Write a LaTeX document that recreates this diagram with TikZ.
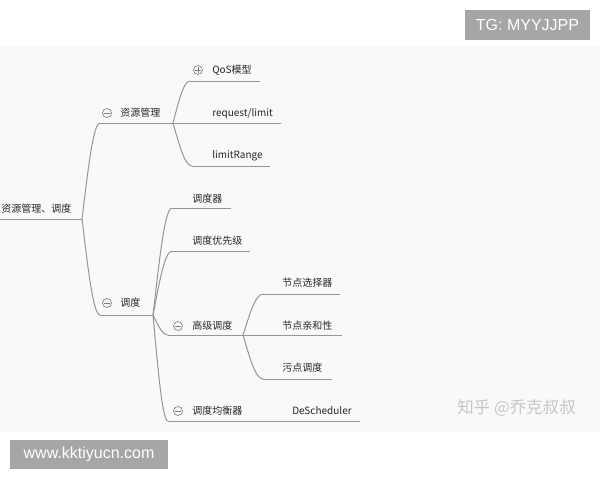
\documentclass[tikz,border=0pt]{standalone}
\usepackage{fontspec}
\usetikzlibrary{calc}
\newfontfamily\cjk{Noto Sans CJK SC}
\newfontfamily\arialf{Liberation Sans}
\definecolor{ln}{HTML}{8F9999}
\definecolor{txt}{HTML}{262626}
\definecolor{icon}{HTML}{808080}
\definecolor{bg}{HTML}{F9F9F9}
\definecolor{tag}{HTML}{A6A6A6}
\definecolor{wm}{HTML}{C6C6C6}
\begin{document}
\begin{tikzpicture}[x=0.75pt,y=-0.75pt,
  lbl/.style={anchor=west,inner sep=0pt,font=\cjk\fontsize{7.5}{9}\selectfont,text=txt},
  br/.style={draw=ln,line width=0.75pt},
  curvy/.style={to path={let \p1=(\tikztostart), \p2=(\tikztotarget) in
     .. controls ({\x1+0.3*(\x2-\x1)},{\y1+0.45*(\y2-\y1)}) and ({\x1+0.6*(\x2-\x1)},{\y2}) .. (\tikztotarget)}},
  foldm/.style={circle,draw=icon,fill=bg,minimum size=6.75pt,inner sep=0pt,line width=0.5pt,
     path picture={\draw[icon,line width=0.5pt] ([xshift=-2pt]path picture bounding box.center) -- ([xshift=2pt]path picture bounding box.center);}},
  foldp/.style={foldm,
     path picture={\draw[icon,line width=0.5pt] ([xshift=-2pt]path picture bounding box.center) -- ([xshift=2pt]path picture bounding box.center)
        ([yshift=-2pt]path picture bounding box.center) -- ([yshift=2pt]path picture bounding box.center);}},
  tagbox/.style={fill=tag,text=white,inner sep=0pt,font=\arialf\fontsize{12}{14}\selectfont}
]
% background
\fill[white] (0,0) rectangle (600,480);
\fill[bg] (0,47) rectangle (600,432);
\useasboundingbox (0,0) rectangle (600,480);

% coordinates of topic lines
\coordinate (root-s) at (0,219);   \coordinate (root-e) at (82,219);
\coordinate (res-s) at (100,123);  \coordinate (res-e) at (173,123);
\coordinate (qos-s) at (190,81);   \coordinate (qos-e) at (260,81);
\coordinate (req-e) at (281,123);
\coordinate (lr-s) at (192,166);   \coordinate (lr-e) at (270,166);
\coordinate (sch-s) at (100,315);  \coordinate (sch-e) at (153,315);
\coordinate (s1-s) at (172,208);   \coordinate (s1-e) at (231,208);
\coordinate (s2-s) at (172,251);   \coordinate (s2-e) at (250,251);
\coordinate (s3-s) at (168,335);   \coordinate (s3-e) at (243,335);
\coordinate (a-s) at (263,294);    \coordinate (a-e) at (340,294);
\coordinate (b-e) at (342,335);
\coordinate (c-s) at (263,379);    \coordinate (c-e) at (332,379);
\coordinate (s4-s) at (168,421);   \coordinate (s4-e) at (245,421);
\coordinate (ds-e) at (360,421);

% underlines
\draw[br] (root-s) -- (root-e);
\draw[br] (res-s) -- (res-e);
\draw[br] (qos-s) -- (qos-e);
\draw[br] (res-e) -- (req-e);
\draw[br] (lr-s) -- (lr-e);
\draw[br] (sch-s) -- (sch-e);
\draw[br] (s1-s) -- (s1-e);
\draw[br] (s2-s) -- (s2-e);
\draw[br] (s3-s) -- (s3-e);
\draw[br] (a-s) -- (a-e);
\draw[br] (s3-e) -- (b-e);
\draw[br] (c-s) -- (c-e);
\draw[br] (s4-s) -- (s4-e);
\draw[br] (s4-e) -- (ds-e);

% connectors
\draw[br] (root-e) to[curvy] (res-s);
\draw[br] (root-e) to[curvy] (sch-s);
\draw[br] (res-e) to[curvy] (qos-s);
\draw[br] (res-e) to[curvy] (lr-s);
\draw[br] (sch-e) to[curvy] (s1-s);
\draw[br] (sch-e) to[curvy] (s2-s);
\draw[br] (sch-e) to[curvy] (s3-s);
\draw[br] (sch-e) to[curvy] (s4-s);
\draw[br] (s3-e) to[curvy] (a-s);
\draw[br] (s3-e) to[curvy] (c-s);

% labels
\node[lbl] (root) at (1,209) {资源管理、调度};
\node[foldm] (res-i) at (107,113) {};
\node[lbl] (res) at (120,113) {资源管理};
\node[foldp] (qos-i) at (198,70) {};
\node[lbl] (qos) at (212,70) {QoS模型};
\node[lbl] (req) at (212,114) {request/limit};
\node[lbl] (lr) at (212,156) {limitRange};
\node[foldm] (sch-i) at (107,303) {};
\node[lbl] (sch) at (120,303) {调度};
\node[lbl] (s1) at (192,199) {调度器};
\node[lbl] (s2) at (192,241) {调度优先级};
\node[foldm] (s3-i) at (178,326) {};
\node[lbl] (s3) at (192,326) {高级调度};
\node[lbl] (a) at (282,283) {节点选择器};
\node[lbl] (b) at (282,326) {节点亲和性};
\node[lbl] (c) at (282,368) {污点调度};
\node[foldm] (s4-i) at (178,411) {};
\node[lbl] (s4) at (192,411) {调度均衡器};
\node[lbl] (ds) at (292,411) {DeScheduler};

% watermarks
\node[anchor=west,inner sep=0pt,text=wm,font=\cjk\fontsize{12.4}{14}\selectfont] (zh) at (457,408) {知乎 @乔克叔叔};
\node[tagbox,minimum width=93.75pt,minimum height=22.5pt] (tg) at (527.5,25) {TG: MYYJJPP};
\node[tagbox,minimum width=118.5pt,minimum height=21.75pt] (www) at (89,454.5) {www.kktiyucn.com};
\end{tikzpicture}
\end{document}
